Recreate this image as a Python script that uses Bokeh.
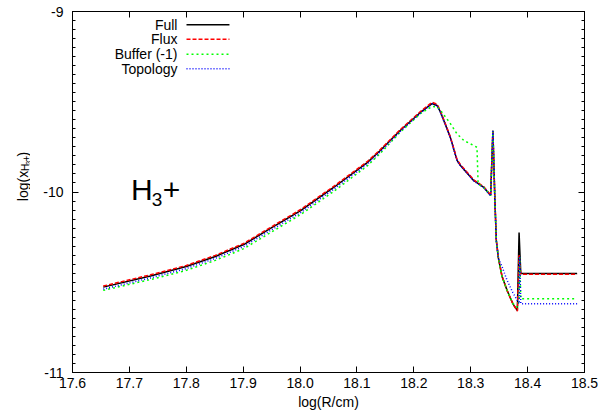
import math
from bokeh.plotting import figure
from bokeh.layouts import row
from bokeh.models import (Range1d, SingleIntervalTicker, PrintfTickFormatter, LinearAxis,
                          CustomJSTickFormatter)
from bokeh.core.properties import value
from bokeh.embed import file_html
from bokeh.resources import INLINE

FONT = "Liberation Sans"

# ---- data ----
full_x = [17.654, 17.737, 17.800, 17.851, 17.901, 17.948, 18.001, 18.059, 18.118, 18.141, 18.176, 18.212,
          18.232, 18.241, 18.247, 18.264, 18.276, 18.282, 18.305, 18.323, 18.335, 18.339, 18.3425, 18.345,
          18.3487, 18.355, 18.364, 18.374, 18.382, 18.385, 18.388, 18.487]
full_y = [-10.527, -10.465, -10.413, -10.357, -10.291, -10.202, -10.103, -9.975, -9.837, -9.770, -9.659, -9.558,
          -9.510, -9.521, -9.558, -9.696, -9.825, -9.853, -9.936, -9.975, -10.019, -9.659, -10.047, -10.269,
          -10.368, -10.468, -10.546, -10.618, -10.657, -10.224, -10.452, -10.452]

flux_x = full_x
flux_y = [-10.521, -10.459, -10.407, -10.351, -10.285, -10.196, -10.097, -9.969, -9.832, -9.765, -9.655, -9.553,
          -9.503, -9.514, -9.553, -9.692, -9.821, -9.849, -9.932, -9.971, -10.016, -9.662, -10.045, -10.266,
          -10.366, -10.466, -10.545, -10.619, -10.660, -10.350, -10.455, -10.455]

buf_x = [17.654, 17.737, 17.800, 17.851, 17.901, 17.948, 18.001, 18.059, 18.118, 18.141, 18.176, 18.212,
         18.232, 18.241, 18.247, 18.264, 18.276, 18.288, 18.311, 18.313, 18.323, 18.335, 18.339, 18.3425,
         18.345, 18.3487, 18.355, 18.364, 18.374, 18.382, 18.385, 18.386, 18.388, 18.487]
buf_y = [-10.545, -10.485, -10.434, -10.379, -10.314, -10.225, -10.125, -9.997, -9.856, -9.786, -9.669, -9.565,
         -9.526, -9.528, -9.548, -9.620, -9.678, -9.715, -9.752, -9.955, -9.975, -10.019, -9.662, -10.047,
         -10.269, -10.368, -10.468, -10.546, -10.618, -10.638, -10.600, -10.360, -10.592, -10.592]

topo_x = [17.654, 17.737, 17.800, 17.851, 17.901, 17.948, 18.001, 18.059, 18.118, 18.141, 18.176, 18.212,
          18.232, 18.241, 18.247, 18.264, 18.276, 18.282, 18.305, 18.323, 18.335, 18.339, 18.3425, 18.345,
          18.3487, 18.355, 18.364, 18.374, 18.382, 18.385, 18.386, 18.388, 18.487]
topo_y = [-10.538, -10.476, -10.424, -10.368, -10.302, -10.213, -10.114, -9.985, -9.846, -9.778, -9.665, -9.562,
          -9.512, -9.523, -9.560, -9.698, -9.827, -9.855, -9.938, -9.977, -10.021, -9.662, -10.050, -10.270,
          -10.368, -10.413, -10.490, -10.557, -10.601, -10.618, -10.360, -10.619, -10.619]

series_names = ["Full", "Flux", "Buffer (-1)", "Topology"]

# ---- left strip holding the rotated y-axis title (with subscripts) ----
LW = 30
pl = figure(width=LW, height=415, output_backend="svg", toolbar_location=None,
            x_range=Range1d(0, LW), y_range=Range1d(415, 0),
            x_axis_type=None, y_axis_type=None, min_border=0)
pl.outline_line_color = None
pl.xgrid.visible = False
pl.ygrid.visible = False
pl.background_fill_color = "white"
pl.border_fill_color = "white"
ylab_parts = [  # (text, font size, baseline x, start y) in strip pixels
    ("log(x", "14px", 22.0, 218.0),
    ("H", "10px", 25.0, 183.5),
    ("3", "7px", 27.5, 176.3),
    ("+", "10px", 25.0, 172.4),
    (")", "14px", 22.0, 166.6),
]
for t, fs, bx, sy in ylab_parts:
    pl.text(x=[bx], y=[sy], text=[t], angle=math.pi / 2, text_font=value(FONT),
            text_font_size=fs, text_align="left", text_baseline="alphabetic", text_color="black")

# ---- main figure ----
p = figure(width=608 - LW, height=415, output_backend="svg", toolbar_location=None,
           x_range=Range1d(17.6, 18.5), y_range=Range1d(-11, -9),
           min_border_left=72 - LW, min_border_right=24, min_border_top=11, min_border_bottom=43)
p.background_fill_color = "white"
p.border_fill_color = "white"
p.outline_line_color = "black"
p.outline_line_width = 1
p.xgrid.visible = False
p.ygrid.visible = False

def style_axis(ax, labels=True):
    ax.axis_line_color = "black"
    ax.major_tick_line_color = "black"
    ax.minor_tick_line_color = "black"
    ax.major_tick_in = 6
    ax.major_tick_out = 0
    ax.minor_tick_in = 3
    ax.minor_tick_out = 0
    if labels:
        ax.major_label_text_font = FONT
        ax.major_label_text_font_size = "14px"
        ax.major_label_text_color = "black"
    else:
        ax.formatter = CustomJSTickFormatter(code="return ''")
        ax.major_label_text_font_size = "1px"
        ax.major_label_standoff = 0

p.xaxis.ticker = SingleIntervalTicker(interval=0.1, num_minor_ticks=0)
p.xaxis.formatter = PrintfTickFormatter(format="%.1f")
style_axis(p.xaxis[0])
p.xaxis.major_label_standoff = 5
p.xaxis.axis_label = "log(R/cm)"
p.xaxis.axis_label_text_font = FONT
p.xaxis.axis_label_text_font_size = "14px"
p.xaxis.axis_label_text_font_style = "normal"
p.xaxis.axis_label_text_color = "black"
p.xaxis.axis_label_standoff = 3

p.yaxis.ticker = SingleIntervalTicker(interval=1, num_minor_ticks=20)
p.yaxis.formatter = PrintfTickFormatter(format="%.0f")
style_axis(p.yaxis[0])
p.yaxis.major_label_standoff = 9

top = LinearAxis(ticker=SingleIntervalTicker(interval=0.1, num_minor_ticks=0))
style_axis(top, labels=False)
p.add_layout(top, "above")
right = LinearAxis(ticker=SingleIntervalTicker(interval=1, num_minor_ticks=20))
style_axis(right, labels=False)
p.add_layout(right, "right")

# ---- curves ----
p.line(full_x, full_y, line_color="black", line_width=1.5)
p.line(flux_x, flux_y, line_color="#ff0000", line_width=1.5, line_dash="4 2")
p.line(buf_x, buf_y, line_color="#00ff00", line_width=1.5, line_dash="2 3")
p.line(topo_x, topo_y, line_color="#0000ff", line_width=1.5, line_dash="1 2")

# ---- legend (gnuplot style: label then sample) ----
styles = [("black", None), ("#ff0000", "4 2"), ("#00ff00", "2 3"), ("#0000ff", "1 2")]
leg_rows_y = [-9.074, -9.154, -9.237, -9.317]
for name, (col, dash), ly in zip(series_names, styles, leg_rows_y):
    p.text(x=[17.7845], y=[ly], text=[name], text_font=value(FONT), text_font_size="14px",
           text_align="right", text_baseline="middle", text_color="black")
    kw = dict(line_color=col, line_width=1.5)
    if dash:
        kw["line_dash"] = dash
    p.line([17.8004, 17.8759], [ly, ly], **kw)

# ---- species annotation H3+ ----
p.text(x=[17.703], y=[-9.987], text=["H"], text_font=value(FONT), text_font_size="30px",
       text_align="left", text_baseline="alphabetic", text_color="black")
p.text(x=[17.7395], y=[-10.043], text=["3"], text_font=value(FONT), text_font_size="19px",
       text_align="left", text_baseline="alphabetic", text_color="black")
p.text(x=[17.7586], y=[-9.987], text=["+"], text_font=value(FONT), text_font_size="30px",
       text_align="left", text_baseline="alphabetic", text_color="black")

layout = row(pl, p, spacing=0)
open("out.html", "w").write(file_html(layout, INLINE))
